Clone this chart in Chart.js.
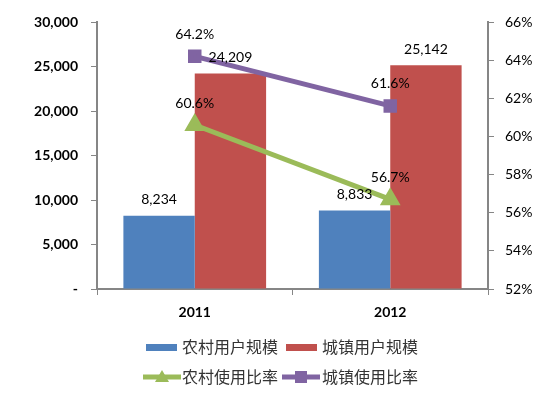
<!DOCTYPE html>
<html><head><meta charset="utf-8">
<script src="https://cdn.jsdelivr.net/npm/chart.js@4/dist/chart.umd.min.js"></script>
<style>html,body{margin:0;padding:0;background:#fff}#wrap{width:551px;height:396px;position:relative}</style>
</head><body><div id="wrap"><canvas id="c" width="551" height="396"></canvas></div>
<script>
const categories = ['2011', '2012'];
const ruralUsers = [8234, 8833];
const urbanUsers = [24209, 25142];
const ruralRate = [0.606, 0.567];
const urbanRate = [0.642, 0.616];
const seriesNames = ['农村用户规模', '城镇用户规模', '农村使用比率', '城镇使用比率'];

const BLUE = '#4F81BD', RED = '#C0504D', GREEN = '#9BBB59', PURPLE = '#8064A2';
const AXIS = '#868686';
const NUMFONT = 'Lato, "Liberation Sans", sans-serif';
const CJK = '"Noto Sans CJK SC", sans-serif';

const labelPlugin = {
  id: 'valueLabels',
  afterDatasetsDraw(chart) {
    const ctx = chart.ctx;
    ctx.save();
    ctx.fillStyle = '#000';
    ctx.textAlign = 'center';
    ctx.textBaseline = 'middle';
    ctx.font = '14px ' + NUMFONT;
    chart.data.datasets.forEach((ds, i) => {
      const meta = chart.getDatasetMeta(i);
      meta.data.forEach((el, j) => {
        const v = ds.data[j];
        let txt, dy;
        if (ds.type === 'line') { txt = (v * 100).toFixed(1) + '%'; dy = 22; }
        else { txt = v.toLocaleString('en-US'); dy = 16; }
        ctx.fillText(txt, el.x, el.y - dy);
      });
    });
    ctx.restore();
  }
};

const legendPlugin = {
  id: 'customLegend',
  afterDraw(chart) {
    const ctx = chart.ctx;
    ctx.save();
    ctx.font = '16px ' + CJK;
    ctx.fillStyle = '#333';
    ctx.textBaseline = 'middle';
    ctx.textAlign = 'left';
    // row 1: bars
    const r1 = 347, r2 = 377;
    ctx.fillStyle = BLUE; ctx.fillRect(146, r1 - 3, 31, 7);
    ctx.fillStyle = RED; ctx.fillRect(286, r1 - 3, 31, 7);
    ctx.fillStyle = '#333';
    const drawSpaced = (s, x, y) => { for (const ch of s) { ctx.fillText(ch, x, y); x += 16; } };
    drawSpaced(seriesNames[0], 182, r1);
    drawSpaced(seriesNames[1], 322, r1);
    // row 2: lines
    ctx.lineWidth = 5;
    ctx.strokeStyle = GREEN;
    ctx.beginPath(); ctx.moveTo(143, r2); ctx.lineTo(181, r2); ctx.stroke();
    ctx.fillStyle = GREEN;
    ctx.beginPath(); ctx.moveTo(162, r2 - 7); ctx.lineTo(169, r2 + 5); ctx.lineTo(155, r2 + 5); ctx.closePath(); ctx.fill();
    ctx.strokeStyle = PURPLE;
    ctx.beginPath(); ctx.moveTo(282, r2); ctx.lineTo(320, r2); ctx.stroke();
    ctx.fillStyle = PURPLE; ctx.fillRect(295, r2 - 6, 12, 12);
    ctx.fillStyle = '#333';
    drawSpaced(seriesNames[2], 182, r2);
    drawSpaced(seriesNames[3], 322, r2);
    ctx.restore();
  }
};

const bgPlugin = {
  id: 'bg',
  beforeDraw(chart) { const c = chart.ctx; c.save(); c.fillStyle = '#fff'; c.fillRect(0, 0, chart.width, chart.height); c.restore(); }
};

new Chart(document.getElementById('c'), {
  data: {
    labels: categories,
    datasets: [
      { type: 'line', label: seriesNames[3], data: urbanRate, yAxisID: 'y1', borderColor: PURPLE, backgroundColor: PURPLE, borderWidth: 5, pointStyle: 'rect', pointRadius: 6, pointHoverRadius: 6, order: 0 },
      { type: 'line', label: seriesNames[2], data: ruralRate, yAxisID: 'y1', borderColor: GREEN, backgroundColor: GREEN, borderWidth: 5, pointStyle: 'triangle', pointRadius: 7, pointHoverRadius: 7, order: 0 },
      { type: 'bar', label: seriesNames[0], data: ruralUsers, yAxisID: 'y', backgroundColor: BLUE, borderColor: '#fff', borderWidth: 0, order: 1 },
      { type: 'bar', label: seriesNames[1], data: urbanUsers, yAxisID: 'y', backgroundColor: RED, borderWidth: 0, order: 1 }
    ]
  },
  options: {
    responsive: false,
    animation: false,
    events: [],
    layout: { padding: { top: 22, left: 0, right: 0, bottom: 0 } },
    categoryPercentage: 0.73,
    barPercentage: 1,
    datasets: { bar: { categoryPercentage: 0.73, barPercentage: 1 } },
    plugins: { legend: { display: false }, tooltip: { enabled: false } },
    scales: {
      x: {
        offset: true,
        grid: { display: true, drawOnChartArea: false, offset: true, color: AXIS, tickLength: 6, lineWidth: 1 },
        border: { color: AXIS, width: 2 },
        ticks: { color: '#000', font: { family: NUMFONT, size: 14, weight: 'bold' }, padding: 9 },
        afterFit(s) { s.height = 107; }
      },
      y: {
        position: 'left', min: 0, max: 30000,
        ticks: { stepSize: 5000, color: '#000', font: { family: NUMFONT, size: 14, weight: 'bold' }, padding: 13,
          callback: v => v === 0 ? '-' : v.toLocaleString('en-US') },
        grid: { display: true, drawOnChartArea: false, color: AXIS, tickLength: 6 },
        border: { color: AXIS, width: 2 },
        afterFit(s) { s.width = 97; }
      },
      y1: {
        position: 'right', min: 0.52, max: 0.66,
        ticks: { stepSize: 0.02, color: '#000', font: { family: NUMFONT, size: 14 }, padding: 11,
          callback: v => Math.round(v * 100) + '%' },
        grid: { display: true, drawOnChartArea: false, color: AXIS, tickLength: 6 },
        border: { color: AXIS, width: 2 },
        afterFit(s) { s.width = 63; }
      }
    }
  },
  plugins: [bgPlugin, labelPlugin, legendPlugin]
});
</script></body></html>
